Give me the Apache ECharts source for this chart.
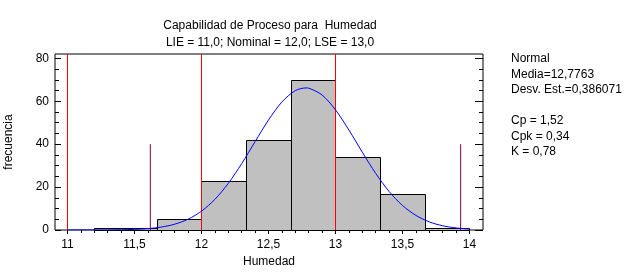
<!DOCTYPE html>
<html>
<head>
<meta charset="utf-8">
<script src="https://cdn.jsdelivr.net/npm/echarts@6/dist/echarts.min.js"></script>
<style>
html,body{margin:0;padding:0;background:#fff;}
#c{width:637px;height:276px;}
</style>
</head>
<body>
<div id="c"></div>
<script>
// ---- data ----
const binStart = [11.2, 11.667, 12.0, 12.333, 12.667, 13.0, 13.333, 13.667];
const binEnd   = [11.667, 12.0, 12.333, 12.667, 13.0, 13.333, 13.667, 14.0];
const freq     = [1, 5, 23, 42, 70, 34, 17, 1];

const curveX = [11.0,11.1,11.2,11.3,11.4,11.5,11.6,11.7,11.8,11.9,12.0,12.1,12.2,12.3,12.4,12.5,12.6,12.7,12.78,12.8,12.9,13.0,13.1,13.2,13.3,13.4,13.5,13.6,13.7,13.8,13.9,14.0];
const curveY = [0.002,0.005,0.016,0.044,0.115,0.28,0.64,1.36,2.71,5.04,8.77,14.27,21.73,30.93,41.17,51.24,59.65,64.92,66.2,66.08,62.89,55.97,46.58,36.25,26.38,17.95,11.42,6.80,3.78,1.97,0.96,0.44];

const specLimits = [11, 12, 13];          // LIE, Nominal, LSE
const sigmaLimits = [11.618, 13.934];     // mean +/- 3 sigma
const sigmaHeight = [40, 40];

const xMajorTicks = [11, 11.5, 12, 12.5, 13, 13.5, 14];
const xMinorTicks = [];
for (let i = 0; i <= 30; i++) xMinorTicks.push(+(11 + i * 0.1).toFixed(1));
const yMajorTicks = [0, 20, 40, 60, 80];
const yMinorTicks = [5, 10, 15, 25, 30, 35, 45, 50, 55, 65, 70, 75];

const titleLines = ['Capabilidad de Proceso para  Humedad', 'LIE = 11,0; Nominal = 12,0; LSE = 13,0'];
const statLines = ['Normal', 'Media=12,7763', 'Desv. Est.=0,386071', '', 'Cp = 1,52', 'Cpk = 0,34', 'K = 0,78'];

// ---- chart ----
const FONT = '"Liberation Sans", Arial, sans-serif';
const XMIN = 10.90672, XMAX = 14.10075, YMIN = 0, YMAX = 82;
const fmt = v => String(v).replace('.', ',');

function xAx(extra) {
  return Object.assign({
    type: 'value', min: XMIN, max: XMAX, position: 'bottom',
    axisLine: {show: false}, splitLine: {show: false},
    axisLabel: {show: false}, axisTick: {show: false}
  }, extra);
}
function yAx(extra) {
  return Object.assign({
    type: 'value', min: YMIN, max: YMAX, position: 'left',
    axisLine: {show: false}, splitLine: {show: false},
    axisLabel: {show: false}, axisTick: {show: false}
  }, extra);
}

const chart = echarts.init(document.getElementById('c'), null, {renderer: 'canvas'});
const series = [];
series.push({
  type: 'custom', xAxisIndex: 0, yAxisIndex: 0,
  data: binStart.map((s, i) => [s, binEnd[i], freq[i]]),
  encode: {x: [0, 1], y: 2},
  renderItem: (params, api) => {
    const p0 = api.coord([api.value(0), api.value(2)]);
    const p1 = api.coord([api.value(1), 0]);
    return {type: 'rect',
      shape: {x: Math.round(p0[0]) + 0.5, y: Math.round(p0[1]) + 0.5, width: Math.round(p1[0]) - Math.round(p0[0]), height: Math.round(p1[1]) - Math.round(p0[1])},
      style: {fill: '#c0c0c0', stroke: '#000', lineWidth: 1}};
  },
  z: 1
});
specLimits.forEach(v => {
  series.push({type: 'line', xAxisIndex: 0, yAxisIndex: 0, z: 3,
    data: [[v, YMIN], [v, YMAX]], showSymbol: false, symbol: 'none',
    lineStyle: {color: '#ff0000', width: 1}, silent: true});
});
sigmaLimits.forEach((v, i) => {
  series.push({type: 'line', xAxisIndex: 0, yAxisIndex: 0, z: 3,
    data: [[v, 0], [v, sigmaHeight[i]]], showSymbol: false, symbol: 'none',
    lineStyle: {color: '#800040', width: 1}, silent: true});
});
series.push({
  type: 'line', xAxisIndex: 0, yAxisIndex: 0, z: 4,
  data: curveX.map((x, i) => [x, curveY[i]]), smooth: 0.3, symbol: 'none',
  lineStyle: {color: '#0000ff', width: 1}, silent: true
});

chart.setOption({
  animation: false,
  backgroundColor: '#fff',
  textStyle: {fontFamily: FONT},
  grid: {left: 55, right: 154, top: 54, bottom: 46, show: true, borderColor: '#000', borderWidth: 1, backgroundColor: 'transparent', containLabel: false, outerBoundsMode: 'none'},
  xAxis: [
    xAx({name: 'Humedad', nameLocation: 'middle', nameGap: 26,
      nameTextStyle: {fontFamily: FONT, fontSize: 12, color: '#000'},
      axisLabel: {show: true, customValues: xMajorTicks, formatter: fmt, margin: 9, fontFamily: FONT, fontSize: 12, color: '#000'},
      axisTick: {show: true, customValues: xMajorTicks, inside: false, length: 4, lineStyle: {color: '#000'}}}),
    xAx({axisTick: {show: true, customValues: xMinorTicks, inside: false, length: 2, lineStyle: {color: '#000'}}}),
    xAx({position: 'top', axisTick: {show: true, customValues: xMinorTicks, inside: true, length: 3, lineStyle: {color: '#000'}}})
  ],
  yAxis: [
    yAx({name: 'frecuencia', nameLocation: 'middle', nameGap: 40,
      nameTextStyle: {fontFamily: FONT, fontSize: 12, color: '#000'},
      axisLabel: {show: true, customValues: yMajorTicks, margin: 6, fontFamily: FONT, fontSize: 12, color: '#000'},
      axisTick: {show: true, customValues: yMajorTicks, inside: true, length: 6, lineStyle: {color: '#000'}}}),
    yAx({axisTick: {show: true, customValues: yMinorTicks, inside: true, length: 4, lineStyle: {color: '#000'}}}),
    yAx({position: 'right', axisTick: {show: true, customValues: yMajorTicks, inside: true, length: 8, lineStyle: {color: '#000'}}}),
    yAx({position: 'right', axisTick: {show: true, customValues: yMinorTicks, inside: true, length: 4, lineStyle: {color: '#000'}}})
  ],
  graphic: [
    {type: 'text', x: 270, y: 17, style: {text: titleLines.join('\n'), font: '12px ' + FONT, fill: '#000', align: 'center', lineHeight: 17}},
    {type: 'text', x: 511, y: 51, style: {text: statLines.join('\n'), font: '12px ' + FONT, fill: '#000', align: 'left', lineHeight: 15.5}}
  ],
  series: series
});
</script>
</body>
</html>
